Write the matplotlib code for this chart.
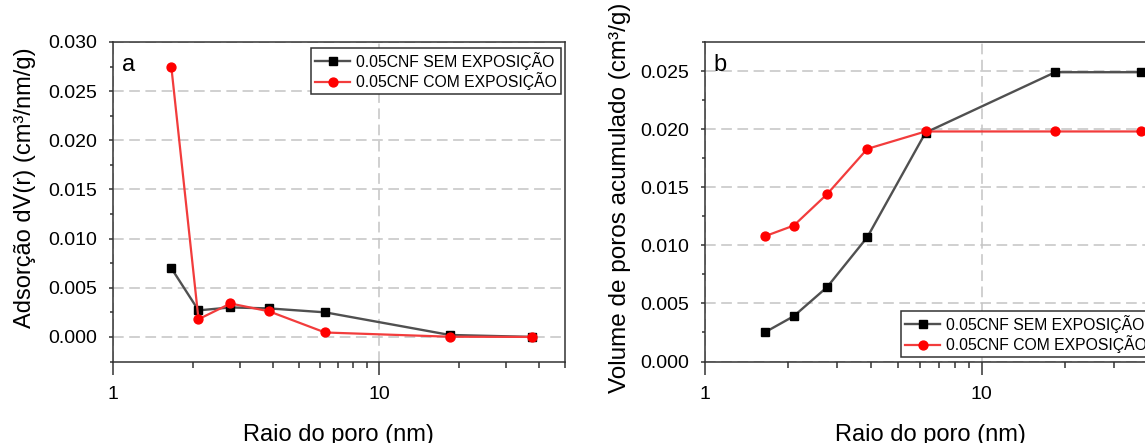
import matplotlib
matplotlib.use("Agg")
import matplotlib.pyplot as plt
from matplotlib.ticker import FixedLocator, FixedFormatter, LogLocator, NullFormatter, MultipleLocator, FormatStrFormatter

plt.rcParams['font.family'] = ['Liberation Sans', 'DejaVu Sans']

# Pore radius (nm)
raio = [1.66, 2.10, 2.77, 3.87, 6.28, 18.45, 37.7]

# Panel a: dV(r) distribution
dv_sem = [0.0070, 0.0027, 0.0030, 0.0029, 0.0025, 0.0002, 0.0000]
dv_com = [0.0275, 0.0018, 0.0034, 0.0026, 0.00045, 0.00002, 0.0000]

# Panel b: cumulative pore volume
vol_sem = [0.00254, 0.0039, 0.0064, 0.0107, 0.0197, 0.0249, 0.0249]
vol_com = [0.0108, 0.0117, 0.0144, 0.0183, 0.0198, 0.0198, 0.0198]

labels = ['0.05CNF SEM EXPOSIÇÃO', '0.05CNF COM EXPOSIÇÃO']
xlabel = 'Raio do poro (nm)'
ylabel_a = 'Adsorção dV(r) (cm³/nm/g)'
ylabel_b = 'Volume de poros acumulado (cm³/g)'

W, H = 1145, 443
fig = plt.figure(figsize=(W / 100, H / 100), dpi=100)

spine_c = '#333333'
grid_c = '#c4c4c4'
gray_line = '#505050'
red_line = '#f23c3c'


def px_rect(x0, y0, x1, y1):
    return [x0 / W, (H - y1) / H, (x1 - x0) / W, (y1 - y0) / H]


def style_axes(ax, ylim, ymajor, letter, letter_x):
    ax.set_xscale('log')
    ax.set_xlim(1, 50)
    ax.set_ylim(*ylim)
    ax.xaxis.set_major_locator(FixedLocator([1, 10]))
    ax.xaxis.set_major_formatter(FixedFormatter(['1', '10']))
    ax.xaxis.set_minor_locator(LogLocator(base=10, subs=range(2, 10)))
    ax.xaxis.set_minor_formatter(NullFormatter())
    ax.yaxis.set_major_locator(MultipleLocator(ymajor))
    ax.yaxis.set_minor_locator(MultipleLocator(ymajor / 2))
    ax.yaxis.set_major_formatter(FormatStrFormatter('%.3f'))
    for s in ax.spines.values():
        s.set_color(spine_c)
        s.set_linewidth(1.1)
    ax.tick_params(axis='x', which='major', direction='out', length=9.5, width=1.1,
                   color=spine_c, labelsize=14, pad=8, labelcolor='black')
    ax.tick_params(axis='x', which='minor', direction='out', length=4.5, width=1.1, color=spine_c)
    ax.tick_params(axis='y', which='major', direction='out', length=3.2, width=1.1,
                   color=spine_c, labelsize=14, pad=8, labelcolor='black')
    ax.tick_params(axis='y', which='minor', direction='out', length=2.2, width=1.1, color=spine_c)
    ax.grid(True, which='major', color=grid_c, linestyle=(0, (7, 3.6)), linewidth=1.1, zorder=0)
    ax.set_axisbelow(True)
    ax.text(letter_x, 0.91, letter, transform=ax.transAxes, fontsize=17, va='baseline', ha='left')


def plot_pair(ax, y_sem, y_com):
    ax.plot(raio, y_sem, color=gray_line, lw=1.7, marker='s', ms=5.8,
            mfc='black', mec='black', label=labels[0], zorder=3)
    ax.plot(raio, y_com, color=red_line, lw=1.6, marker='o', ms=6.4,
            mfc='#ff0000', mec='#ff0000', label=labels[1], zorder=4)


def add_legend(ax, x_px, y_px):
    leg = ax.legend(loc='upper left', bbox_to_anchor=(x_px / W, (H - y_px) / H),
                    bbox_transform=fig.transFigure, fontsize=11.3, frameon=True,
                    fancybox=False, framealpha=1, edgecolor=spine_c, borderaxespad=0,
                    borderpad=0.25, labelspacing=0.15, handlelength=2.25, handletextpad=0.35)
    leg.get_frame().set_linewidth(1.1)


# Panel a
ax1 = fig.add_axes(px_rect(112.7, 42, 565, 361.5))
plot_pair(ax1, dv_sem, dv_com)
style_axes(ax1, (-0.0025, 0.030), 0.005, 'a', 0.02)
ax1.set_xlabel(xlabel, fontsize=17)
ax1.xaxis.set_label_coords(0.5, -0.195)
ax1.set_ylabel(ylabel_a, fontsize=17)
ax1.yaxis.set_label_coords(-0.17, 0.545)
add_legend(ax1, 311, 48)

# Panel b (extends past the right edge of the canvas)
bw = 1.699 * 277
ax2 = fig.add_axes(px_rect(704.5, 42, 704.5 + bw, 361.5))
plot_pair(ax2, vol_sem, vol_com)
style_axes(ax2, (0.0, 0.0275), 0.005, 'b', 0.02)
ax2.set_xlabel(xlabel, fontsize=17)
ax2.xaxis.set_label_coords((930 - 704.5) / bw, -0.195)
ax2.set_ylabel(ylabel_b, fontsize=17.5)
ax2.yaxis.set_label_coords(-0.157, 0.512)
add_legend(ax2, 901, 311)

fig.savefig('out.png', dpi=100)
